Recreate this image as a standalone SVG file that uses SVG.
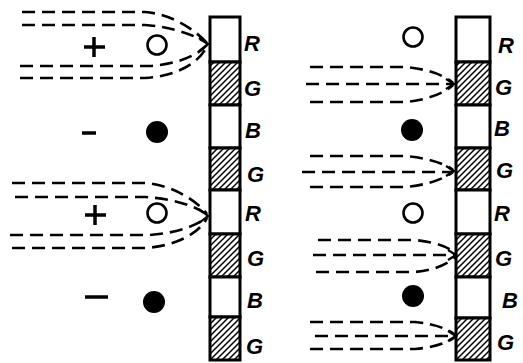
<svg xmlns="http://www.w3.org/2000/svg" width="523" height="363" viewBox="0 0 523 363">
<style>
.bg{fill:#fff}
.cell{fill:#fff;stroke:#000;stroke-width:3}
.hat{fill:url(#hatch);stroke:#000;stroke-width:3}
.lbl{font-family:"Liberation Sans",Arial,sans-serif;font-weight:bold;font-style:italic;font-size:22px;fill:#000}
.dash{fill:none;stroke:#000;stroke-width:2.6;stroke-dasharray:13 7;stroke-linecap:butt}
.tip{fill:none;stroke:#000;stroke-width:2.2}
.open{fill:#fff;stroke:#000;stroke-width:2.6}
.fill{fill:#000}
.sign{stroke:#000;stroke-width:3.5;fill:none}
</style>
<defs>
<pattern id="hatch" patternUnits="userSpaceOnUse" width="6" height="6">
<rect width="6" height="6" fill="#fff"/>
<path d="M-1 7 L7 -1 M-4 4 L4 -4 M2 10 L10 2" stroke="#000" stroke-width="1.5"/>
</pattern>
</defs>
<rect class="bg" width="523" height="363"/>

<g id="strip-left">
<rect class="cell" x="210" y="17" width="30" height="45"/>
<rect class="hat" x="210" y="62" width="30" height="43"/>
<rect class="cell" x="210" y="105" width="30" height="43"/>
<rect class="hat" x="210" y="148" width="30" height="42"/>
<rect class="cell" x="210" y="190" width="30" height="44"/>
<rect class="hat" x="210" y="234" width="30" height="43"/>
<rect class="cell" x="210" y="277" width="30" height="40"/>
<rect class="hat" x="210" y="317" width="30" height="43"/>
</g>
<g id="strip-right">
<rect class="cell" x="456" y="17" width="34" height="45"/>
<rect class="hat" x="456" y="62" width="34" height="43"/>
<rect class="cell" x="456" y="105" width="34" height="43"/>
<rect class="hat" x="456" y="148" width="34" height="42"/>
<rect class="cell" x="456" y="190" width="34" height="44"/>
<rect class="hat" x="456" y="234" width="34" height="43"/>
<rect class="cell" x="456" y="277" width="34" height="41"/>
<rect class="hat" x="456" y="318" width="34" height="42"/>
</g>

<g id="labels-left">
<text class="lbl" x="244" y="51">R</text>
<text class="lbl" x="244" y="96">G</text>
<text class="lbl" x="245" y="138">B</text>
<text class="lbl" x="247" y="182">G</text>
<text class="lbl" x="245" y="221">R</text>
<text class="lbl" x="247" y="266">G</text>
<text class="lbl" x="247" y="308">B</text>
<text class="lbl" x="246" y="354">G</text>
</g>
<g id="labels-right">
<text class="lbl" x="498" y="53">R</text>
<text class="lbl" x="495" y="95">G</text>
<text class="lbl" x="494" y="136">B</text>
<text class="lbl" x="496" y="178">G</text>
<text class="lbl" x="494" y="221">R</text>
<text class="lbl" x="495" y="266">G</text>
<text class="lbl" x="502" y="308">B</text>
<text class="lbl" x="497" y="350">G</text>
</g>

<g id="charge-plus-1"><path class="sign" d="M84 47 H105 M94 37 V57"/></g>
<g id="hole-1"><circle class="open" cx="157" cy="45" r="9.5"/></g>
<g id="charge-minus-1"><path class="sign" d="M82 133 H96"/></g>
<g id="electron-1"><circle class="fill" cx="157" cy="132" r="11"/></g>
<g id="charge-plus-2"><path class="sign" d="M85 215 H106 M95 205 V225"/></g>
<g id="hole-2"><circle class="open" cx="157" cy="213" r="9.5"/></g>
<g id="charge-minus-2"><path class="sign" d="M85 297 H108"/></g>
<g id="electron-2"><circle class="fill" cx="154" cy="302" r="11"/></g>

<g id="hole-3"><circle class="open" cx="413" cy="37" r="9.5"/></g>
<g id="electron-3"><circle class="fill" cx="412" cy="130" r="11"/></g>
<g id="hole-4"><circle class="open" cx="413" cy="213" r="9.5"/></g>
<g id="electron-4"><circle class="fill" cx="413" cy="296" r="11"/></g>

<g id="connectors">
<path class="dash" d="M22 12 H145 C172 14 195 30 207 43"/>
<path class="dash" d="M22 25 H145 C174 27 196 36 207 43"/>
<path class="dash" d="M20 66 H150 C178 64 198 55 207 45"/>
<path class="dash" d="M20 78 H145 C178 76 200 62 207 46"/>
<path class="tip" d="M199 38 L208 44 L199 51"/>

<path class="dash" d="M12 183 H145 C172 185 196 200 207 214"/>
<path class="dash" d="M15 197 H145 C176 199 198 207 207 215"/>
<path class="dash" d="M10 235 H150 C178 233 198 225 207 217"/>
<path class="dash" d="M12 248 H145 C178 246 200 232 207 218"/>
<path class="tip" d="M199 209 L208 216 L199 223"/>

<path class="dash" d="M310 67 H405 C430 69 447 77 453 83"/>
<path class="dash" d="M306 84 H453"/>
<path class="dash" d="M310 102 H405 C430 100 447 91 453 85"/>
<path class="tip" d="M446 79 L454 84 L446 89"/>

<path class="dash" d="M310 156 H405 C430 158 447 165 453 170"/>
<path class="dash" d="M302 172 H453"/>
<path class="dash" d="M310 187 H405 C430 185 447 177 453 172"/>
<path class="tip" d="M446 166 L454 171 L446 176"/>

<path class="dash" d="M318 240 H415 C436 242 450 248 455 253"/>
<path class="dash" d="M313 255 H455"/>
<path class="dash" d="M316 272 H415 C438 270 450 262 455 257"/>
<path class="tip" d="M448 250 L456 255 L448 260"/>

<path class="dash" d="M310 322 H415 C436 324 450 330 455 335"/>
<path class="dash" d="M315 336 H455"/>
<path class="dash" d="M310 349 H415 C438 347 450 341 455 337"/>
<path class="tip" d="M448 331 L456 336 L448 341"/>
</g>
</svg>
